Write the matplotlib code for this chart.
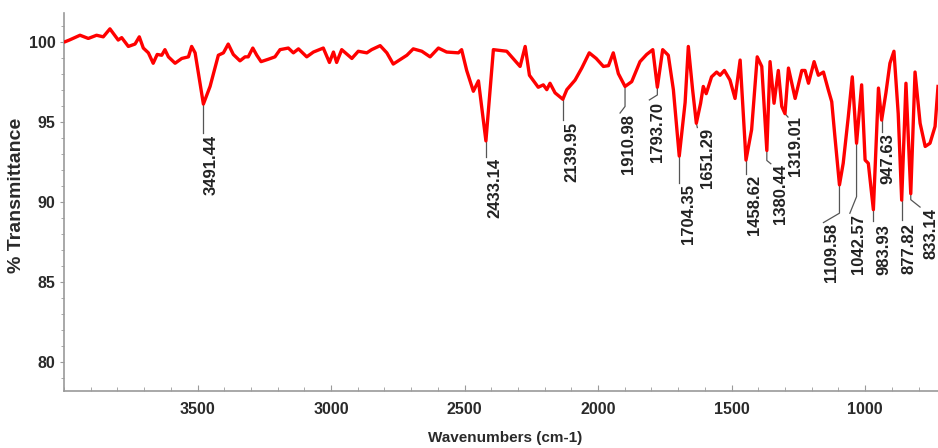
import numpy as np
import matplotlib
matplotlib.use("Agg")
import matplotlib.pyplot as plt
from matplotlib.ticker import MultipleLocator

# ---------------- data ----------------
wavenumber = [3995, 3980, 3940, 3909, 3878, 3853, 3828, 3797, 3784, 3759, 3734, 3718, 3703, 3684,
              3666, 3651, 3634, 3622, 3609, 3584, 3559, 3534, 3522, 3509, 3478, 3453, 3422, 3403,
              3385, 3366, 3341, 3322, 3310, 3293, 3278, 3262, 3235, 3210, 3191, 3160, 3141, 3122,
              3091, 3066, 3029, 3006, 2991, 2979, 2960, 2922, 2898, 2866, 2848, 2816, 2791, 2767,
              2735, 2716, 2692, 2660, 2629, 2598, 2567, 2523, 2511, 2492, 2467, 2448, 2420, 2392,
              2342, 2292, 2273, 2257, 2224, 2205, 2192, 2180, 2161, 2132, 2117, 2086, 2061, 2033,
              2007, 1980, 1961, 1943, 1924, 1899, 1874, 1843, 1818, 1795, 1778, 1758, 1737, 1718,
              1696, 1674, 1662, 1646, 1632, 1616, 1606, 1595, 1575, 1556, 1543, 1527, 1506, 1487,
              1468, 1446, 1425, 1404, 1387, 1368, 1356, 1341, 1325, 1312, 1300, 1287, 1262, 1237,
              1225, 1212, 1191, 1175, 1156, 1138, 1125, 1113, 1096, 1082, 1063, 1048, 1032, 1013,
              1000, 988, 969, 950, 938, 922, 907, 892, 876, 863, 847, 829, 813, 794, 775, 757, 738,
              727]
transmittance = [100.0, 100.1, 100.4, 100.2, 100.4, 100.3, 100.8, 100.1, 100.25, 99.7, 99.85, 100.3,
                 99.6, 99.3, 98.65, 99.2, 99.15, 99.5, 99.05, 98.65, 98.95, 99.05, 99.7, 99.3, 96.1,
                 97.2, 99.15, 99.3, 99.85, 99.2, 98.8, 99.05, 99.05, 99.6, 99.15, 98.75, 98.9, 99.05,
                 99.5, 99.6, 99.3, 99.55, 99.05, 99.35, 99.6, 98.7, 99.35, 98.7, 99.5, 98.95, 99.4,
                 99.3, 99.5, 99.75, 99.3, 98.6, 98.95, 99.15, 99.55, 99.4, 99.05, 99.6, 99.35, 99.3,
                 99.5, 98.2, 96.9, 97.55, 93.8, 99.5, 99.4, 98.45, 99.7, 97.9, 97.15, 97.3, 97.0,
                 97.4, 96.8, 96.4, 97.0, 97.6, 98.35, 99.3, 98.95, 98.45, 98.5, 99.3, 98.0, 97.2,
                 97.5, 98.75, 99.2, 99.5, 97.15, 99.5, 99.15, 97.0, 92.85, 96.2, 99.7, 97.0, 94.9,
                 96.15, 97.2, 96.75, 97.8, 98.1, 97.9, 98.2, 97.6, 96.45, 98.85, 92.6, 94.5, 99.05,
                 98.45, 93.2, 98.75, 96.15, 98.2, 95.95, 95.5, 98.35, 96.45, 98.2, 98.2, 97.4, 98.75,
                 97.9, 98.1, 97.0, 96.25, 94.05, 91.05, 92.4, 95.3, 97.8, 93.65, 97.3, 92.6, 92.4,
                 89.5, 97.1, 95.1, 96.8, 98.65, 99.4, 95.5, 90.1, 97.4, 90.5, 98.1, 94.9, 93.45,
                 93.65, 94.7, 97.2]

peak_labels = ["3491.44", "2433.14", "2139.95", "1910.98", "1793.70", "1704.35", "1651.29",
               "1458.62", "1380.44", "1319.01", "1109.58", "1042.57", "983.93", "947.63",
               "877.82", "833.14"]
peak_positions = [3478, 2420, 2132, 1899, 1778, 1696, 1632, 1446, 1368, 1300, 1096, 1032,
                  969, 938, 863, 829]

x_ticks = [3500, 3000, 2500, 2000, 1500, 1000]
y_ticks = [80, 85, 90, 95, 100]

# ---------------- layout (pixel offsets of leader lines / text from each peak) ----------------
leader_paths = [
    [(0, 29)], [(0, 16)], [(0, 21)], [(0, 20), (-5, 26.6)], [(0, 7.7), (-8, 12.7)],
    [(0, 26.7)], [(1, 4.3)], [(0, 14.4)], [(0, 10), (4, 13.3)], [(3, 3.4)],
    [(0, 28.3), (-16, 37.7)], [(0, 53.4), (-6.7, 70)], [(0, 11.7)], [(0, 11.7)],
    [(0, 20)], [(0, 6), (9.3, 13.4)],
]
text_offsets = [
    (7.7, 31), (9, 17), (8.8, 23), (3, 27.5), (0, 14.4), (9.7, 28), (11.2, 4.5),
    (8, 15), (13.8, 14), (10.7, 2), (-8.3, 38.3), (1.6, 71), (10.7, 14), (6.3, 12.7),
    (7.3, 22.7), (20.3, 14),
]

W, H = 938, 448
fig = plt.figure(figsize=(W / 100, H / 100), dpi=100)
ax = fig.add_axes([64 / W, (H - 391) / H, (W - 64) / W, (391 - 13) / H])

FONT = ["Liberation Sans", "DejaVu Sans"]

ax.plot(wavenumber, transmittance, color="#ff0000", lw=2.4, solid_joinstyle="round", zorder=3)

ax.set_xlim(4000, 727)
ax.set_ylim(78.17, 101.79)

for s in ["top", "right"]:
    ax.spines[s].set_visible(False)
for s in ["left", "bottom"]:
    ax.spines[s].set_color("#9a9a9a")
    ax.spines[s].set_linewidth(1.2)

ax.set_xticks(x_ticks)
ax.set_yticks(y_ticks)
ax.xaxis.set_minor_locator(MultipleLocator(100))
ax.yaxis.set_minor_locator(MultipleLocator(1))
ax.tick_params(axis="x", which="major", direction="in", length=4, color="#9a9a9a", pad=8)
ax.tick_params(axis="x", which="minor", direction="in", length=3, color="#9a9a9a")
ax.tick_params(axis="y", which="major", direction="out", length=3, color="#9a9a9a", pad=3)
ax.tick_params(axis="y", which="minor", direction="out", length=2, color="#9a9a9a")
for lab in ax.get_xticklabels() + ax.get_yticklabels():
    lab.set_fontfamily(FONT)
    lab.set_fontweight("bold")
    lab.set_fontsize(11.5)
    lab.set_color("#2a2a2a")

fig.text(505 / W, 1 - 438 / H, "Wavenumbers (cm-1)", ha="center", va="center",
         fontsize=11, fontweight="bold", family=FONT, color="#2a2a2a")
fig.text(17 / W, 1 - 195 / H, "% Transmittance", ha="center", va="center", rotation=90,
         fontsize=14, fontweight="bold", family=FONT, color="#2a2a2a")

# annotations
wn_rev = np.array(wavenumber[::-1], dtype=float)
tr_rev = np.array(transmittance[::-1], dtype=float)
inv = ax.transData.inverted()
for lab, pos, path, toff in zip(peak_labels, peak_positions, leader_paths, text_offsets):
    ty = float(np.interp(pos, wn_rev, tr_rev))
    px, py = ax.transData.transform((pos, ty))
    pts = [(px, py)] + [(px + dx, py - dy) for dx, dy in path]
    dpts = inv.transform(pts)
    ax.plot(dpts[:, 0], dpts[:, 1], color="#555555", lw=0.9, zorder=2, clip_on=False)
    tx, tyy = inv.transform((px + toff[0], py - toff[1]))
    ax.text(tx, tyy, lab, rotation=90, ha="center", va="top", fontsize=12,
            fontweight="bold", family=FONT, color="#222222", zorder=4)

fig.savefig("out.png", dpi=100)
